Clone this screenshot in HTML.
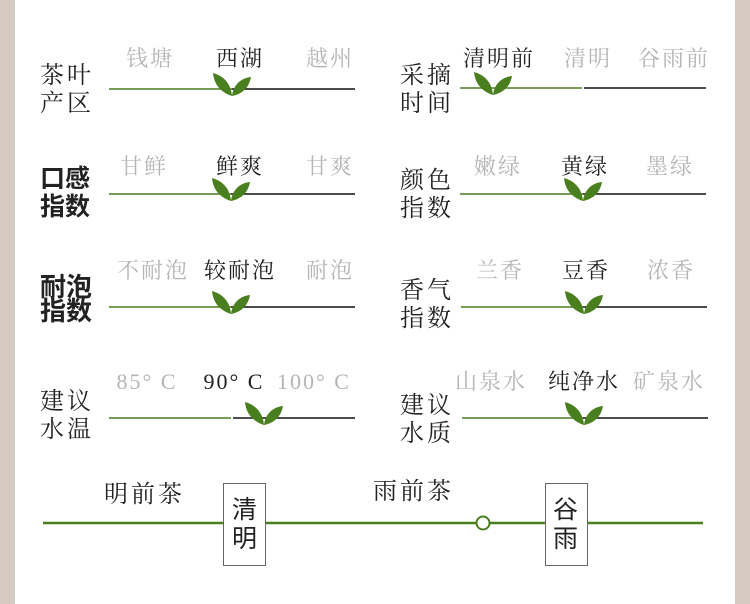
<!DOCTYPE html>
<html><head><meta charset="utf-8"><style>
html,body{margin:0;padding:0;background:#fff}
svg{display:block}
text{font-family:"Liberation Serif","Noto Serif CJK SC",serif}
.o{font-size:22px;fill:#b5b5b5;text-anchor:middle;letter-spacing:2px}
.s{font-size:22px;fill:#222;text-anchor:middle;letter-spacing:2px}
.l{font-size:24px;fill:#222;letter-spacing:3px}
.b{font-family:"Liberation Sans","Noto Sans CJK SC",sans-serif;font-weight:bold;font-size:25px;fill:#222}
</style></head><body>
<svg width="750" height="604" viewBox="0 0 750 604" xmlns="http://www.w3.org/2000/svg">
<defs>
<g id="leaf"><path d="M0,2 C-12,-2 -18,-10 -19,-21 C-8,-18 -1,-10 0,2Z" fill="#4a7f1f"/><path d="M0,2 C1,-8 8,-16 19,-17 C17,-6 10,0 0,2Z" fill="#4a7f1f"/></g>
</defs>
<rect x="0" y="0" width="15" height="604" fill="#d6cbc2"/>
<rect x="735" y="0" width="15" height="604" fill="#d6cbc2"/>

<text class="l" x="40" y="83">茶叶</text><text class="l" x="40" y="111">产区</text>
<text class="b" x="40" y="187">口感</text><text class="b" x="40" y="215">指数</text>
<text class="b" x="40" y="296" style="font-size:26px">耐泡</text><text class="b" x="40" y="320" style="font-size:26px">指数</text>
<text class="l" x="40" y="409">建议</text><text class="l" x="40" y="437">水温</text>
<text class="l" x="400" y="83">采摘</text><text class="l" x="400" y="111">时间</text>
<text class="l" x="400" y="188">颜色</text><text class="l" x="400" y="216">指数</text>
<text class="l" x="400" y="298">香气</text><text class="l" x="400" y="326">指数</text>
<text class="l" x="400" y="413">建议</text><text class="l" x="400" y="441">水质</text>

<text class="o" x="150" y="66">钱塘</text><text class="s" x="240" y="66">西湖</text><text class="o" x="330" y="66">越州</text>
<text class="o" x="144" y="174">甘鲜</text><text class="s" x="240" y="174">鲜爽</text><text class="o" x="330" y="174">甘爽</text>
<text class="o" x="153" y="278">不耐泡</text><text class="s" x="240" y="278">较耐泡</text><text class="o" x="330" y="278">耐泡</text>
<text class="o" x="147" y="389">85° C</text><text class="s" x="234" y="389">90° C</text><text class="o" x="314" y="389">100° C</text>
<text class="s" x="499" y="66">清明前</text><text class="o" x="588" y="66">清明</text><text class="o" x="674" y="66">谷雨前</text>
<text class="o" x="498" y="174">嫩绿</text><text class="s" x="585" y="174">黄绿</text><text class="o" x="670" y="174">墨绿</text>
<text class="o" x="500" y="278">兰香</text><text class="s" x="586" y="278">豆香</text><text class="o" x="671" y="278">浓香</text>
<text class="o" x="491" y="389">山泉水</text><text class="s" x="584" y="389">纯净水</text><text class="o" x="669" y="389">矿泉水</text>

<g stroke-width="1.5">
<line x1="109" y1="89" x2="232" y2="89" stroke="#4a7f1f"/><line x1="232" y1="89" x2="355" y2="89" stroke="#111"/>
<line x1="109" y1="194" x2="231" y2="194" stroke="#4a7f1f"/><line x1="231" y1="194" x2="355" y2="194" stroke="#111"/>
<line x1="109" y1="307" x2="231" y2="307" stroke="#4a7f1f"/><line x1="231" y1="307" x2="355" y2="307" stroke="#111"/>
<line x1="109" y1="418" x2="231" y2="418" stroke="#4a7f1f"/><line x1="233" y1="418" x2="355" y2="418" stroke="#111"/>
<line x1="460" y1="88" x2="582" y2="88" stroke="#4a7f1f"/><line x1="584" y1="88" x2="706" y2="88" stroke="#111"/>
<line x1="460" y1="194" x2="583" y2="194" stroke="#4a7f1f"/><line x1="583" y1="194" x2="706" y2="194" stroke="#111"/>
<line x1="461" y1="307" x2="583" y2="307" stroke="#4a7f1f"/><line x1="583" y1="307" x2="707" y2="307" stroke="#111"/>
<line x1="462" y1="418" x2="583" y2="418" stroke="#4a7f1f"/><line x1="583" y1="418" x2="708" y2="418" stroke="#111"/>
</g>
<use href="#leaf" x="232" y="94"/>
<use href="#leaf" x="231" y="199"/>
<use href="#leaf" x="231" y="312"/>
<use href="#leaf" x="264" y="423"/>
<use href="#leaf" x="493" y="93"/>
<use href="#leaf" x="583" y="199"/>
<use href="#leaf" x="584" y="312"/>
<use href="#leaf" x="584" y="423"/>

<line x1="43" y1="523" x2="703" y2="523" stroke="#4a7f1f" stroke-width="2.5"/>
<text class="l" x="104" y="502">明前茶</text>
<text class="l" x="373" y="499">雨前茶</text>
<rect x="223.5" y="483.5" width="42" height="82" fill="#fff" stroke="#666"/>
<text class="l" x="232" y="518" style="font-size:25px;font-family:'Liberation Sans','Noto Sans CJK SC',sans-serif">清</text>
<text class="l" x="232" y="547" style="font-size:25px;font-family:'Liberation Sans','Noto Sans CJK SC',sans-serif">明</text>
<rect x="545.5" y="483.5" width="42" height="82" fill="#fff" stroke="#666"/>
<text class="l" x="553" y="518" style="font-size:25px;font-family:'Liberation Sans','Noto Sans CJK SC',sans-serif">谷</text>
<text class="l" x="553" y="547" style="font-size:25px;font-family:'Liberation Sans','Noto Sans CJK SC',sans-serif">雨</text>
<circle cx="483" cy="523" r="6.5" fill="#fff" stroke="#4a7f1f" stroke-width="2"/>
</svg>
</body></html>
